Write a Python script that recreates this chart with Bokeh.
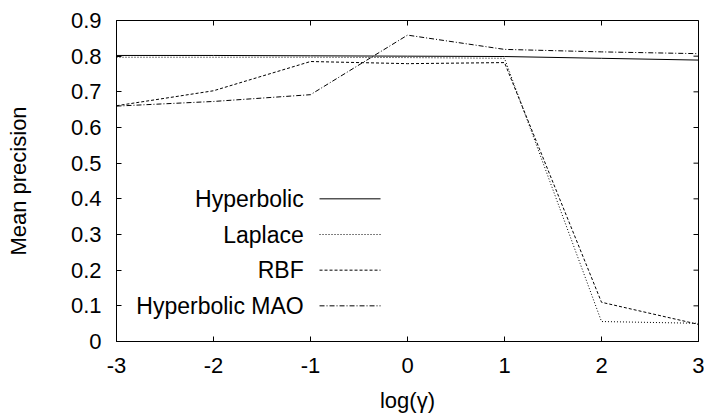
import math
from bokeh.plotting import figure
from bokeh.models import Range1d, FixedTicker, Label
from bokeh.embed import file_html
from bokeh.resources import INLINE

# ---- data ----
log_gamma = [-3, -2, -1, 0, 1, 2, 3]
hyperbolic = [0.802, 0.802, 0.801, 0.800, 0.799, 0.794, 0.789]
laplace = [0.797, 0.797, 0.797, 0.796, 0.794, 0.056, 0.051]
rbf = [0.661, 0.703, 0.785, 0.779, 0.782, 0.110, 0.048]
hyperbolic_mao = [0.660, 0.673, 0.692, 0.859, 0.819, 0.812, 0.807]

series_names = ["Hyperbolic", "Laplace", "RBF", "Hyperbolic MAO"]
x_ticks = [-3, -2, -1, 0, 1, 2, 3]
y_ticks = [0, 0.1, 0.2, 0.3, 0.4, 0.5, 0.6, 0.7, 0.8, 0.9]

X_MIN, X_MAX = -3, 3
Y_MIN, Y_MAX = 0, 0.9

FONT = "Liberation Sans"
FS = "22px"
KEY_FS = "23px"

p = figure(width=704, height=415, x_range=Range1d(X_MIN, X_MAX), y_range=Range1d(Y_MIN, Y_MAX),
           output_backend="svg", toolbar_location=None,
           min_border_left=116, min_border_right=6, min_border_top=20, min_border_bottom=71)
p.xgrid.visible = False
p.ygrid.visible = False
p.outline_line_color = "black"
p.outline_line_width = 1
p.background_fill_color = "white"
p.border_fill_color = "white"

xa = p.xaxis[0]
ya = p.yaxis[0]
xa.ticker = FixedTicker(ticks=x_ticks)
ya.ticker = FixedTicker(ticks=y_ticks)
xa.major_label_overrides = {t: str(t) for t in x_ticks}
ya.major_label_overrides = {0: "0"}
for ax in (xa, ya):
    ax.axis_line_color = "black"
    ax.major_tick_line_color = "black"
    ax.major_tick_in = 5
    ax.major_tick_out = 0
    ax.minor_tick_line_color = None
    ax.major_label_text_font = FONT
    ax.major_label_text_color = "black"
    ax.major_label_text_font_size = FS
    ax.axis_label_text_font = FONT
    ax.axis_label_text_font_size = FS
    ax.axis_label_text_font_style = "normal"
    ax.axis_label_text_color = "black"
xa.major_label_standoff = 16
ya.major_label_standoff = 15
xa.axis_label = "log(γ)"
ya.axis_label = "Mean precision"
xa.axis_label_standoff = 12
ya.axis_label_standoff = 37

# mirrored inward ticks on the top and right edges (clipped to the frame)
p.scatter(x_ticks, [Y_MAX] * len(x_ticks), marker="dash", size=10, angle=math.pi / 2,
          line_color="black", line_width=1)
p.scatter([X_MAX] * len(y_ticks), y_ticks, marker="dash", size=10,
          line_color="black", line_width=1)

dashes = ["solid", "1 2", "3 2", "5 2 1 2"]
ys = [hyperbolic, laplace, rbf, hyperbolic_mao]
for ydat, d in zip(ys, dashes):
    p.line(log_gamma, ydat, line_color="black", line_width=1, line_dash=d)

# ---- key (gnuplot style: label right-aligned, sample on the right) ----
key_text_x = -1.07
key_x0, key_x1 = -0.907, -0.278
key_y = [0.4, 0.3, 0.2, 0.1]
for name, d, ky in zip(series_names, dashes, key_y):
    p.add_layout(Label(x=key_text_x, y=ky, text=name, text_align="right",
                       text_baseline="middle", text_font=FONT, text_font_size=KEY_FS,
                       text_color="black"))
    p.line([key_x0, key_x1], [ky, ky], line_color="black", line_width=1, line_dash=d)

open("out.html", "w").write(file_html(p, INLINE))
